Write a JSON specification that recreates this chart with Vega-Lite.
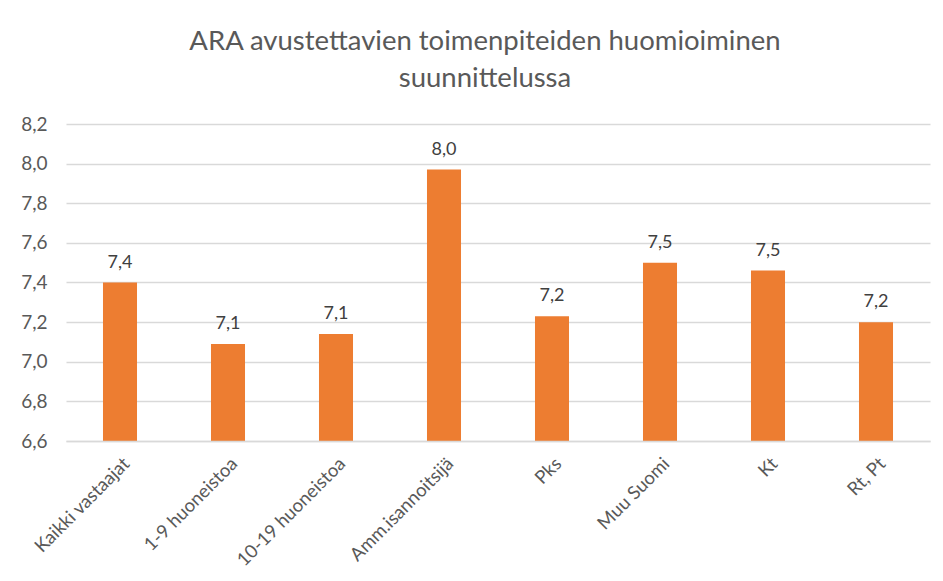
{
  "$schema": "https://vega.github.io/schema/vega-lite/v6.json",
  "width": 864,
  "height": 317,
  "autosize": {"type": "none"},
  "padding": {"left": 66, "top": 124, "right": 13, "bottom": 140},
  "background": "white",
  "config": {
    "locale": {"number": {"decimal": ",", "thousands": " ", "grouping": [3], "currency": ["", " €"]}},
    "view": {"stroke": null},
    "font": "Lato"
  },
  "title": {
    "text": ["ARA avustettavien toimenpiteiden huomioiminen", "suunnittelussa"],
    "fontSize": 27.5,
    "font": "Lato",
    "fontWeight": "normal",
    "color": "#595959",
    "lineHeight": 37,
    "anchor": "middle",
    "dx": -13,
    "offset": 23
  },
  "data": {
    "values": [
      {"ryhma": "Kaikki vastaajat", "arvo": 7.40},
      {"ryhma": "1-9 huoneistoa", "arvo": 7.09},
      {"ryhma": "10-19 huoneistoa", "arvo": 7.14},
      {"ryhma": "Amm.isannoitsijä", "arvo": 7.97},
      {"ryhma": "Pks", "arvo": 7.23},
      {"ryhma": "Muu Suomi", "arvo": 7.50},
      {"ryhma": "Kt", "arvo": 7.46},
      {"ryhma": "Rt, Pt", "arvo": 7.20}
    ]
  },
  "encoding": {
    "x": {
      "field": "ryhma",
      "type": "nominal",
      "sort": null,
      "scale": {"paddingInner": 0.685, "paddingOuter": 0.3425},
      "axis": {
        "title": null,
        "labelAngle": -45,
        "labelFontSize": 18.5,
        "labelColor": "#595959",
        "labelFont": "Lato",
        "labelPadding": 13,
        "ticks": false,
        "domainColor": "#D9D9D9",
        "domainWidth": 1.3,
        "zindex": 1
      }
    },
    "y": {
      "field": "arvo",
      "type": "quantitative",
      "scale": {"domain": [6.6, 8.2], "zero": false, "nice": false},
      "axis": {
        "title": null,
        "values": [6.6, 6.8, 7.0, 7.2, 7.4, 7.6, 7.8, 8.0, 8.2],
        "format": ".1f",
        "labelFontSize": 19,
        "labelColor": "#595959",
        "labelFont": "Lato",
        "labelPadding": 19,
        "ticks": false,
        "domain": false,
        "gridColor": "#D9D9D9",
        "gridWidth": 1.3
      }
    }
  },
  "layer": [
    {"mark": {"type": "bar", "color": "#ED7D31"}, "encoding": {"y2": {"datum": 6.6}}},
    {
      "mark": {"type": "text", "baseline": "alphabetic", "dy": -15, "fontSize": 18, "color": "#404040", "font": "Lato"},
      "encoding": {"text": {"field": "arvo", "type": "quantitative", "format": ".1f"}}
    }
  ]
}
